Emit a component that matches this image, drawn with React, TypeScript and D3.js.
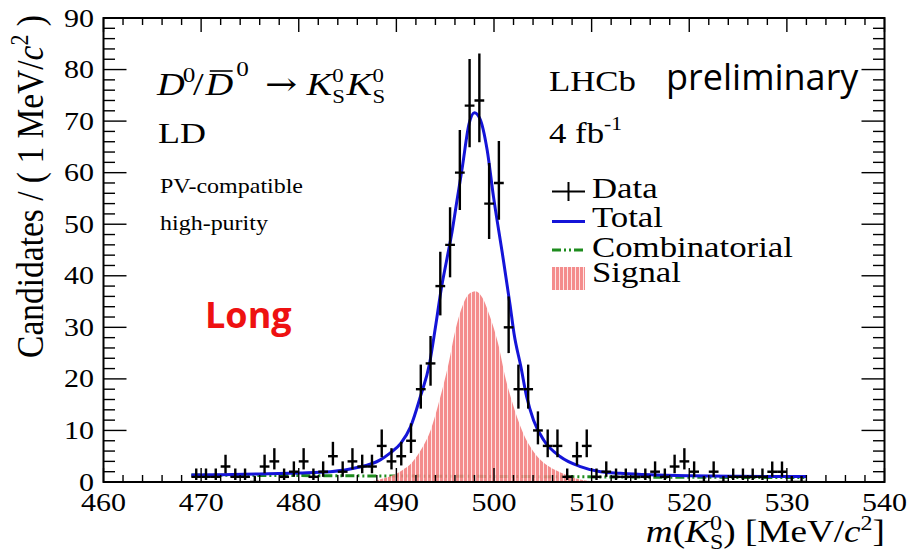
import React from "react";
import * as d3 from "d3";

const W = 912;
const H = 554;
const SX = 1.2;
const SERIF = "'Liberation Serif', 'Times New Roman', serif";
const SANS = "'Open Sans', 'Noto Sans', sans-serif";

// axis definitions
const xMajorTicks = [460, 470, 480, 490, 500, 510, 520, 530, 540];
const yMajorTicks = [0, 10, 20, 30, 40, 50, 60, 70, 80, 90];

// binned data: 1 MeV bins starting at 469 MeV
const binStart = 469;
const binWidth = 1;
const counts = [
  1, 1, 1, 3, 1, 1, 0, 3, 4, 1,
  2, 4, 1, 2, 5, 2, 4, 3, 3, 7,
  4, 5, 8, 18, 23, 38, 46, 60, 73, 74,
  54, 58, 30, 18, 18, 10, 7, 7, 1, 5,
  7, 1, 2, 1, 1, 1, 1, 2, 1, 3,
  4, 2, 0, 2, 0, 1, 1, 1, 1, 2,
  2, 0, 0,
];

// total fit curve
const totalMass = [469, 472, 476, 480, 483.25, 486, 488.35, 489.35, 490.45, 491.45, 492.45, 493.4, 494.0, 494.6, 495.2, 495.7, 496.2, 496.75, 497.45, 498.0, 498.55, 499.3, 499.95, 500.85, 501.65, 502.05, 502.75, 503.35, 504.05, 505.1, 506.8, 508.85, 510.9, 512.95, 516, 520, 525, 532];
const totalVal = [1.35, 1.4, 1.55, 1.75, 2.0, 2.8, 4.3, 5.6, 7.5, 10.7, 16.5, 23, 30, 37.5, 43.5, 48.5, 54.5, 61, 69.5, 71.6, 70.5, 64.4, 55.3, 44.4, 34.3, 28.8, 22.4, 16.5, 12, 8.1, 4.9, 3, 2, 1.7, 1.4, 1.2, 1.1, 1.05];

// signal component
const sigMass = [487.0, 488.2, 489.5, 490.6, 491.6, 492.6, 493.5, 494.5, 495.35, 496.05, 496.8, 497.45, 498.1, 498.8, 499.6, 500.4, 501.2, 501.8, 503.0, 504.0, 504.7, 505.8, 507.0, 508.2, 509.4, 510.6];
const sigVal = [0, 0.45, 1.2, 2.3, 3.8, 6.5, 10, 16.5, 23, 29.5, 34.3, 36.5, 37, 35.8, 32, 27, 20, 15.9, 9.4, 6, 4.4, 2.8, 1.7, 0.8, 0.3, 0];

// combinatorial component
const combMass = [469, 485, 500, 515, 532];
const combVal = [1.35, 1.2, 1.08, 0.95, 0.85];

const x = d3.scaleLinear().domain([460, 540]).range([103.5, 884.5]);
const y = d3.scaleLinear().domain([0, 90]).range([482, 18]);

function poissonInterval(n: number): [number, number] {
  if (n === 0) return [0, 1.148];
  const s = Math.sqrt(n + 0.25);
  return [n + 0.5 - s, n + 0.5 + s];
}

const T = ({ x, y, size, anchor = "start", children, italic = false, family = SERIF, fill = "#000", weight = "normal", sx = SX }: any) => (
  <text
    transform={`translate(${x},${y}) scale(${sx},1)`}
    fontSize={size}
    fontFamily={family}
    textAnchor={anchor}
    fontStyle={italic ? "italic" : "normal"}
    fontWeight={weight}
    fill={fill}
  >
    {children}
  </text>
);

export default function App() {
  const [X0, X1] = x.range();
  const [Y0, Y1] = y.range();

  const totalPath = d3
    .line<number>()
    .x((_, i) => x(totalMass[i]))
    .y((d) => y(d))
    .curve(d3.curveMonotoneX)(totalVal) as string;

  const combPath = d3
    .line<number>()
    .x((_, i) => x(combMass[i]))
    .y((d) => y(d))
    .curve(d3.curveMonotoneX)(combVal) as string;

  const sigPath = d3
    .area<number>()
    .x((_, i) => x(sigMass[i]))
    .y0(y(0))
    .y1((d) => y(d))
    .curve(d3.curveMonotoneX)(sigVal) as string;

  const xMinor = d3.range(460, 540.001, 2);
  const yMinor = d3.range(0, 90.001, 2);
  const xMajLen = 14, xMinLen = 7, yMajLen = 23, yMinLen = 11.5;

  const points = counts.map((n, i) => {
    const c = binStart + binWidth * (i + 0.5);
    const [lo, hi] = poissonInterval(n);
    return { c, n, lo, hi };
  });

  return (
    <svg width={W} height={H} style={{ position: "absolute", left: 0, top: 0, background: "#fff" }}>
      <defs>
        <pattern id="sigpat" width="4" height="4" patternUnits="userSpaceOnUse">
          <rect width="4" height="4" fill="#f27c7c" />
          <rect x="3" width="1" height="4" fill="#fde3e3" />
        </pattern>
        <clipPath id="frame">
          <rect x={X0} y={Y1} width={X1 - X0} height={Y0 - Y1} />
        </clipPath>
      </defs>
      <rect x={0} y={0} width={W} height={H} fill="#fff" />

      <g clipPath="url(#frame)">
        <path d={combPath} fill="none" stroke="#1e8c1e" strokeWidth={3} strokeDasharray="9,3,2,3,2,3" />
        <path d={totalPath} fill="none" stroke="#1414d8" strokeWidth={3} />
        <path d={sigPath} fill="url(#sigpat)" fillOpacity={0.88} stroke="none" />
        {points.map((p, i) => (
          <g key={i} stroke="#000" strokeWidth={2.4}>
            <line x1={x(p.c)} x2={x(p.c)} y1={y(p.lo)} y2={y(p.hi)} />
            <line x1={x(p.c - binWidth / 2)} x2={x(p.c + binWidth / 2)} y1={y(p.n)} y2={y(p.n)} />
          </g>
        ))}
      </g>

      {/* ticks */}
      <g stroke="#000" strokeWidth={1.4}>
        {xMinor.map((v) => {
          const maj = Math.round(v) % 10 === 0;
          const L = maj ? xMajLen : xMinLen;
          return (
            <g key={"xt" + v}>
              <line x1={x(v)} x2={x(v)} y1={Y0} y2={Y0 - L} />
              <line x1={x(v)} x2={x(v)} y1={Y1} y2={Y1 + L} />
            </g>
          );
        })}
        {yMinor.map((v) => {
          const maj = Math.round(v) % 10 === 0;
          const L = maj ? yMajLen : yMinLen;
          return (
            <g key={"yt" + v}>
              <line x1={X0} x2={X0 + L} y1={y(v)} y2={y(v)} />
              <line x1={X1} x2={X1 - L} y1={y(v)} y2={y(v)} />
            </g>
          );
        })}
      </g>
      <rect x={X0} y={Y1} width={X1 - X0} height={Y0 - Y1} fill="none" stroke="#000" strokeWidth={2} />

      {/* tick labels */}
      {xMajorTicks.map((v) => (
        <T key={"xl" + v} x={x(v)} y={511} size={25} anchor="middle">
          {v}
        </T>
      ))}
      {yMajorTicks.map((v) => (
        <T key={"yl" + v} x={94} y={y(v) + 8.5} size={25} anchor="end">
          {v}
        </T>
      ))}

      {/* axis titles */}
      <T x={885} y={542} size={31} anchor="end">
        <tspan fontStyle="italic">m</tspan>(<tspan fontStyle="italic">K</tspan>
        <tspan fontSize={20} dy={-12}>0</tspan>
        <tspan fontSize={20} dx={-10} dy={19}>S</tspan>
        <tspan dy={-7}>) [MeV/</tspan>
        <tspan fontStyle="italic">c</tspan>
        <tspan fontSize={20} dy={-12}>2</tspan>
        <tspan dy={12}>]</tspan>
      </T>
      <g transform={`translate(43,15) scale(1.12,1) rotate(-90)`}>
        <text textAnchor="end" fontSize={33.5} fontFamily={SERIF}>
          Candidates / ( 1 MeV/<tspan fontStyle="italic">c</tspan>
          <tspan fontSize={22} dy={-13}>2</tspan>
          <tspan dy={13}> )</tspan>
        </text>
      </g>

      {/* decay label */}
      <g transform={`translate(157,95) scale(${SX},1)`} fontFamily={SERIF}>
        <text fontSize={32}>
          <tspan x={0} y={0} fontStyle="italic">D</tspan>
          <tspan x={21.5} y={-13} fontSize={21}>0</tspan>
          <tspan x={30} y={0}>/</tspan>
          <tspan x={40.5} y={0} fontStyle="italic">D</tspan>
          <tspan x={66} y={-19} fontSize={21}>0</tspan>
          <tspan x={90} y={0} fontFamily="'DejaVu Serif', serif">→</tspan>
          <tspan x={124.5} y={0} fontStyle="italic">K</tspan>
          <tspan x={146} y={-13} fontSize={19}>0</tspan>
          <tspan x={146} y={8} fontSize={19}>S</tspan>
          <tspan x={158} y={0} fontStyle="italic">K</tspan>
          <tspan x={179.5} y={-13} fontSize={19}>0</tspan>
          <tspan x={179.5} y={8} fontSize={19}>S</tspan>
        </text>
        <line x1={44} x2={63} y1={-24} y2={-24} stroke="#000" strokeWidth={1.6} />
      </g>
      <T x={158} y={143} size={30}>LD</T>
      <T x={160} y={193} size={20}>PV-compatible</T>
      <T x={160} y={230} size={20}>high-purity</T>

      <T x={549} y={91} size={29}>LHCb</T>
      <T x={549} y={143} size={29}>
        4 fb<tspan fontSize={18} dy={-13}>-1</tspan>
      </T>
      <text x={666} y={90} fontFamily={SANS} fontSize={36} fill="#000">preliminary</text>
      <text x={205} y={328} fontFamily={SANS} fontSize={36} fontWeight={700} fill="#ee1111">Long</text>

      {/* legend */}
      <g>
        <line x1={552} x2={585} y1={191.5} y2={191.5} stroke="#000" strokeWidth={2} />
        <line x1={568.5} x2={568.5} y1={182} y2={201} stroke="#000" strokeWidth={2} />
        <T x={592} y={198} size={29}>Data</T>
        <line x1={552} x2={585} y1={221.5} y2={221.5} stroke="#1414d8" strokeWidth={3} />
        <T x={592} y={227} size={29}>Total</T>
        <line x1={552} x2={585} y1={250} y2={250} stroke="#1e8c1e" strokeWidth={3} strokeDasharray="9,3,2,3,2,3" />
        <T x={592} y={256.5} size={29}>Combinatorial</T>
        <rect x={552} y={267} width={33} height={23} fill="url(#sigpat)" fillOpacity={0.88} />
        <T x={592} y={282} size={29}>Signal</T>
      </g>
    </svg>
  );
}
